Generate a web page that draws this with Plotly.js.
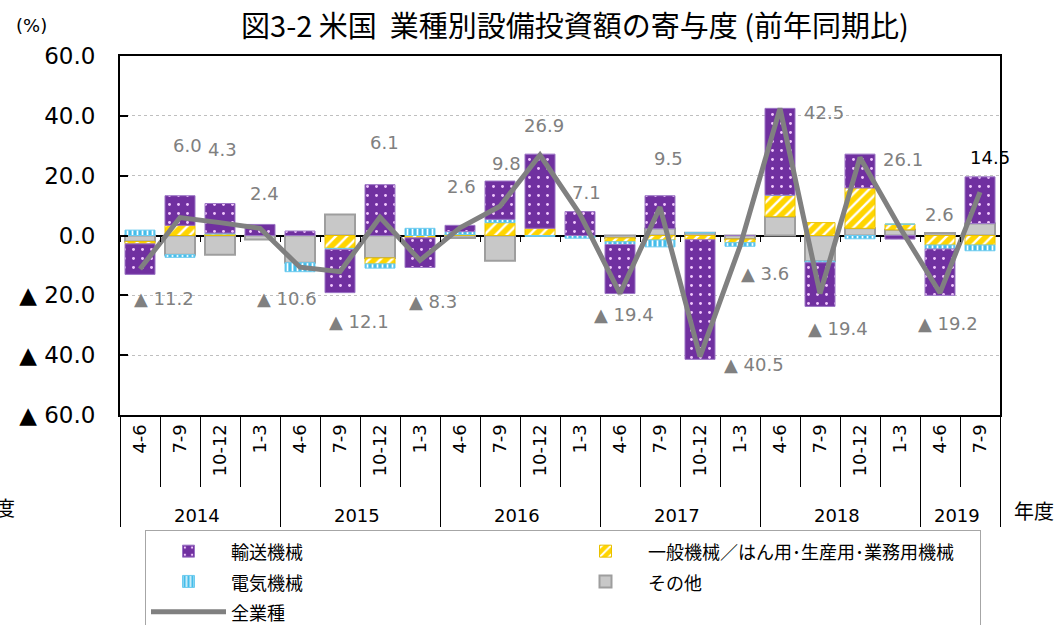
<!DOCTYPE html>
<html><head><meta charset="utf-8">
<script src="https://cdn.plot.ly/plotly-3.0.1.min.js"></script>
<style>html,body{margin:0;padding:0;background:#fff}#chart{width:1057px;height:625px}</style>
</head><body><div id="chart"></div>
<script>
// ---- data ----
const fiscalYears = ['2014','2014','2014','2014','2015','2015','2015','2015','2016','2016','2016','2016','2017','2017','2017','2017','2018','2018','2018','2018','2019','2019'];
const quarters = ['4-6','7-9','10-12','1-3','4-6','7-9','10-12','1-3','4-6','7-9','10-12','1-3','4-6','7-9','10-12','1-3','4-6','7-9','10-12','1-3','4-6','7-9'];
const transport = [-10.2, 9.9, 9.9, 3.7, 1.5, -14.4, 17.0, -9.9, 2.1, 12.8, 24.8, 8.0, -16.4, 11.0, -40.0, 0.0, 29.0, -14.6, 11.3, -1.2, -15.5, 15.6];
const general   = [-0.8, 3.4, 0.5, 0.0, 0.0, -4.3, -2.0, -0.8, 0.3, 4.3, 2.4, 0.0, -1.3, -1.5, -1.4, -1.2, 7.2, 4.3, 13.5, 1.9, -3.2, -3.2];
const electric  = [1.8, -0.9, 0.3, 0.0, -3.0, -0.4, -1.4, 2.4, 1.0, 1.1, -0.3, -0.9, -0.9, -2.3, 0.0, -1.2, 0.0, -0.5, -1.1, 0.0, -1.3, -1.9];
const other     = [-2.0, -6.4, -6.4, -1.3, -9.1, 7.0, -7.5, 0.0, -0.8, -8.4, 0.0, 0.0, -0.8, 2.3, 0.9, -1.2, 6.3, -8.6, 2.4, 1.9, 0.8, 4.0];
const allIndustries = [-11.2, 6.0, 4.3, 2.4, -10.6, -12.1, 6.1, -8.3, 2.6, 9.8, 26.9, 7.1, -19.4, 9.5, -40.5, -3.6, 42.5, -19.4, 26.1, 2.6, -19.2, 14.5];
const yTickVals = [-60, -40, -20, 0, 20, 40, 60];
const yTickText = ['▲\u00a060.0', '▲\u00a040.0', '▲\u00a020.0', '0.0', '20.0', '40.0', '60.0'];

// ---- label placement (px offsets from the line point) ----
const labelDx = [24, 7, 2, 4, -13, 19, 4, 13, 1, 6, 4, 6, 4, 8, 54, 25, 44, 18, 43, 39, 8, 10];
const labelDy = [29, -72, -73, -35, 31, 50, -75, 41, -41, -43, -30, -22, 21, -49, 8, 27, 4, 35, 2, -13, 31, -35];

const L = 120, R = 1000, T = 56, B = 415;
const px2x = p => (p - L) / (R - L);
const py2y = p => (B - p) / (B - T);
const NUMFONT = 'DejaVu Sans, Noto Sans CJK JP, sans-serif';
const JPFONT = 'Noto Sans CJK JP, sans-serif';
const pad = '\u00a0\u00a0';
const X = [fiscalYears, quarters.map(q => pad + q)];
const lg = s => '<span style="font-size:18px">' + s + '</span>';

const traces = [
  {type:'bar', name: lg('その他'), x: X, y: other, legendrank: 4,
   marker:{color:'#C8C8C8', line:{color:'#9E9E9E', width:2}}},
  {type:'bar', name: lg('一般機械／はん用･生産用･業務用機械'), x: X, y: general, legendrank: 2,
   marker:{color:'#FFD500', line:{color:'#E8C000', width:1},
     pattern:{shape:'/', bgcolor:'#FFD500', fgcolor:'#FFFFFF', size:8, solidity:0.3}}},
  {type:'bar', name: lg('電気機械'), x: X, y: electric, legendrank: 3,
   marker:{color:'#45BDEA', line:{color:'#6CCBEF', width:1},
     pattern:{shape:'|', bgcolor:'#45BDEA', fgcolor:'#FFFFFF', size:5, solidity:0.35}}},
  {type:'bar', name: lg('輸送機械'), x: X, y: transport, legendrank: 1,
   marker:{color:'#7030A0', line:{color:'#9B74C4', width:1},
     pattern:{shape:'.', bgcolor:'#7030A0', fgcolor:'#F2C8FF', size:9, solidity:0.08}}},
  {type:'scatter', mode:'lines', name: lg('全業種'), x: X, y: allIndustries, legendrank: 5,
   line:{color:'#808080', width:5}},
  {type:'scatter', mode:'markers', x:[0], y:[null], xaxis:'x2', yaxis:'y', showlegend:false, hoverinfo:'skip'}
];

const annotations = allIndustries.map((v, i) => ({
  xref:'x2', yref:'y', x: i, y: v, xanchor:'center', yanchor:'middle',
  text: (v < 0 ? '▲\u00a0' + Math.abs(v).toFixed(1) : v.toFixed(1)),
  showarrow:false, xshift: labelDx[i], yshift: -labelDy[i],
  font:{family: NUMFONT, size:18, color: i === allIndustries.length - 1 ? '#000000' : '#808080'}
}));
annotations.push(
  {xref:'paper', yref:'paper', x: px2x(31), y: py2y(26), xanchor:'center', yanchor:'middle', text:'(%)', showarrow:false,
   font:{family: NUMFONT, size:18, color:'#000'}},
  {xref:'paper', yref:'paper', x: px2x(1034), y: py2y(510), xanchor:'center', yanchor:'middle', text:'年度', showarrow:false,
   font:{family: JPFONT, size:20, color:'#000'}},
  {xref:'paper', yref:'paper', x: px2x(17), xanchor:'right', y: py2y(507), yanchor:'middle', text:'年度', showarrow:false,
   font:{family: JPFONT, size:20, color:'#000'}}
);

const layout = {
  width:1057, height:625,
  margin:{l:L, r:1057-R, t:T, b:625-B, autoexpand:false},
  paper_bgcolor:'#fff', plot_bgcolor:'#fff',
  barmode:'relative', bargap:0.25,
  title:{text:'図3-2 米国  業種別設備投資額の寄与度 (前年同期比)', x: 575/1057, xref:'container', xanchor:'center',
         y: 1 - 27/625, yref:'container', yanchor:'middle', font:{family: JPFONT, size:29, color:'#000'}},
  xaxis:{type:'multicategory', showline:true, linecolor:'#000', linewidth:2, mirror:true,
         ticks:'outside', tickson:'boundaries', ticklen:70, tickcolor:'#000', tickwidth:1,
         tickangle:-90, tickfont:{family: NUMFONT, size:18, color:'#000'},
         showdividers:true, dividercolor:'#000', dividerwidth:1, showgrid:false, zeroline:false},
  xaxis2:{overlaying:'x', anchor:'free', position:0.5, range:[-0.5, 21.5], tickmode:'linear', tick0:0.5, dtick:1,
          ticks:'outside', ticklen:5, tickwidth:1, tickcolor:'#000', showticklabels:false,
          showline:false, showgrid:false, zeroline:false, side:'bottom'},
  yaxis:{range:[-60, 60], tickmode:'array', tickvals: yTickVals, ticktext: yTickText,
         tickfont:{family: NUMFONT, size:23, color:'#000'}, ticklabelstandoff:18,
         ticks:'inside', ticklen:8, tickwidth:2, tickcolor:'#000',
         showline:true, linecolor:'#000', linewidth:2, mirror:true,
         showgrid:true, gridcolor:'#BFBFBF', griddash:'dot', gridwidth:1,
         zeroline:true, zerolinecolor:'#000', zerolinewidth:2},
  legend:{orientation:'h', x: px2x(145), xanchor:'left', y: py2y(530), yanchor:'top',
          entrywidth:327, entrywidthmode:'pixels', itemwidth:75, traceorder:'normal',
          font:{family: JPFONT, size:21, color:'#000'},
          bordercolor:'#A6A6A6', borderwidth:1, bgcolor:'#fff'},
  annotations: annotations,
  showlegend:true
};

Plotly.newPlot('chart', traces, layout, {displayModeBar:false, staticPlot:true});
</script>
</body></html>
